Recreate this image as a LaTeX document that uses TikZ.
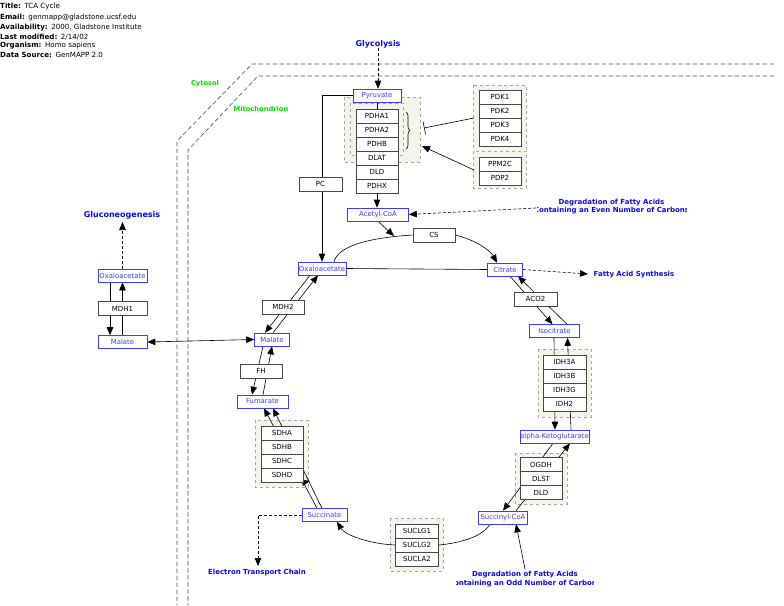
\documentclass[tikz,border=0pt]{standalone}
\usepackage{fontspec}
\setmainfont{DejaVu Sans}
\usetikzlibrary{arrows.meta,decorations.pathreplacing,calc}
\pgfdeclarelayer{grp}
\pgfdeclarelayer{lines}
\pgfsetlayers{grp,lines,main}
\definecolor{mblue}{RGB}{60,60,255}
\definecolor{lblue}{RGB}{10,10,235}
\definecolor{lgreen}{RGB}{0,220,0}
\definecolor{grpfill}{RGB}{244,244,236}
\definecolor{genedraw}{RGB}{70,70,70}
\begin{document}
\begin{tikzpicture}[x=1pt,y=-1pt,
 gene/.style={draw=genedraw, line width=0.8pt, fill=white, inner sep=0pt, minimum height=14pt, minimum width=42pt, font=\fontsize{7}{8}\selectfont},
 met/.style={draw=mblue, line width=0.6pt, fill=white, text=mblue, inner sep=0pt, minimum height=13pt, font=\fontsize{6.9}{8}\selectfont},
 lab/.style={text=lblue, font=\bfseries\fontsize{7}{8.6}\selectfont, align=center, inner sep=0pt},
 biglab/.style={text=lblue, font=\bfseries\fontsize{8}{9.6}\selectfont, inner sep=0pt},
 comp/.style={text=lgreen, font=\bfseries\fontsize{6.7}{8}\selectfont, inner sep=0pt},
 grpbox/.style={draw=gray!70, dashed, fill=grpfill, line width=0.5pt},
 cell/.style={draw=black!70, line width=0.6pt, dash pattern=on 4.5pt off 2.5pt},
 conn/.style={draw=black, line width=0.6pt},
 tri/.style={-{Triangle[length=8pt,width=6.5pt]}},
 dconn/.style={conn, dash pattern=on 3pt off 2pt},
 hdr/.style={anchor=west, inner sep=0pt, font=\fontsize{7.1}{8}\selectfont}
]
\useasboundingbox (0,0) rectangle (784,605);

% header
\begin{scope}
\clip (0,0) rectangle (142,62);
\node[hdr] (h1) at (0,7) {\textbf{Title:}\enspace TCA Cycle};
\node[hdr] (h2) at (0,17.5) {\textbf{Email:}\enspace genmapp@gladstone.ucsf.edu};
\node[hdr] (h3) at (0,27.5) {\textbf{Availability:}\enspace 2000, Gladstone Institute};
\node[hdr] (h4) at (0,36.8) {\textbf{Last modified:}\enspace 2/14/02};
\node[hdr] (h5) at (0,46) {\textbf{Organism:}\enspace Homo sapiens};
\node[hdr] (h6) at (0,55) {\textbf{Data Source:}\enspace GenMAPP 2.0};
\end{scope}

% compartments
\node[comp] (cyt) at (205,84) {Cytosol};
\node[comp] (mito) at (261,109) {Mitochondrion};

% labels
\node[biglab] (glyc) at (378,44) {Glycolysis};
\node[biglab] (glu) at (122,215) {Gluconeogenesis};
\node[lab] (fas) at (634,275) {Fatty Acid Synthesis};
\node[lab] (etc) at (257,573) {Electron Transport Chain};
\begin{scope}
\clip (537,195) rectangle (686,218);
\node[lab] (even) at (611.5,206.5) {Degradation of Fatty Acids\\Containing an Even Number of Carbons};
\end{scope}
\begin{scope}
\clip (456,568) rectangle (593,592);
\node[lab] (odd) at (525,579) {Degradation of Fatty Acids\\Containing an Odd Number of Carbons};
\end{scope}
\coordinate (evenstart) at (536,208);
\coordinate (oddstart) at (525,569);

% metabolites
\node[met, minimum width=48pt] (pyr) at (377,95.5) {Pyruvate};
\node[met, minimum width=61pt] (acoa) at (378,214.5) {Acetyl-CoA};
\node[met, minimum width=48pt] (oxam) at (322,268.5) {Oxaloacetate};
\node[met, minimum width=35pt] (cit) at (505,269.5) {Citrate};
\node[met, minimum width=50pt] (iso) at (554.5,331) {Isocitrate};
\node[met, minimum width=67pt] (akg) at (554.5,436.5) {alpha-Ketoglutarate};
\node[met, minimum width=49pt] (scoa) at (503,517.5) {Succinyl-CoA};
\node[met, minimum width=45pt] (succ) at (324.5,515) {Succinate};
\node[met, minimum width=51pt] (fum) at (262.5,401.5) {Fumarate};
\node[met, minimum width=35pt] (malm) at (272,339.5) {Malate};
\node[met, minimum width=49pt] (oxac) at (122.5,275.5) {Oxaloacetate};
\node[met, minimum width=49pt] (malc) at (122.5,342) {Malate};

% genes
\node[gene] (pdha1) at (377,116) {PDHA1};
\node[gene] (pdha2) at (377,130) {PDHA2};
\node[gene] (pdhb) at (377,144) {PDHB};
\node[gene] (dlat) at (377,158) {DLAT};
\node[gene] (dld1) at (377,172) {DLD};
\node[gene] (pdhx) at (377,186) {PDHX};
\node[gene, minimum width=43pt] (pc) at (320.5,184) {PC};
\node[gene] (cs) at (434,235) {CS};
\node[gene, minimum width=43pt] (aco2) at (535.5,299) {ACO2};
\node[gene, minimum width=43pt] (idh3a) at (564.5,362) {IDH3A};
\node[gene, minimum width=43pt] (idh3b) at (564.5,376) {IDH3B};
\node[gene, minimum width=43pt] (idh3g) at (564.5,390) {IDH3G};
\node[gene, minimum width=43pt] (idh2) at (564.5,404) {IDH2};
\node[gene] (ogdh) at (541,464.5) {OGDH};
\node[gene] (dlst) at (541,478.5) {DLST};
\node[gene] (dld2) at (541,492.5) {DLD};
\node[gene, minimum width=43pt] (suclg1) at (417,531) {SUCLG1};
\node[gene, minimum width=43pt] (suclg2) at (417,545) {SUCLG2};
\node[gene, minimum width=43pt] (sucla2) at (417,559) {SUCLA2};
\node[gene] (sdha) at (282,433) {SDHA};
\node[gene] (sdhb) at (282,447) {SDHB};
\node[gene] (sdhc) at (282,461) {SDHC};
\node[gene] (sdhd) at (282,475) {SDHD};
\node[gene] (pdk1) at (500,97) {PDK1};
\node[gene] (pdk2) at (500,111) {PDK2};
\node[gene] (pdk3) at (500,125) {PDK3};
\node[gene] (pdk4) at (500,139) {PDK4};
\node[gene] (ppm2c) at (500,164) {PPM2C};
\node[gene] (pdp2) at (500,178) {PDP2};
\node[gene] (mdh2) at (283,307) {MDH2};
\node[gene] (fh) at (261,371) {FH};
\node[gene, minimum width=49pt] (mdh1) at (122.5,308.5) {MDH1};

% groups
\begin{pgfonlayer}{grp}
\path[grpbox] (344,97) rectangle (420,162);
\path[grpbox] (350,103) rectangle (403,155);
\path[grpbox] (473,85) rectangle (526,151);
\path[grpbox] (473,151) rectangle (526,188);
\path[grpbox] (538,349) rectangle (591,417);
\path[grpbox] (515,453) rectangle (567,504);
\path[grpbox] (390,518) rectangle (443,571);
\path[grpbox] (255,420) rectangle (308,487);
\end{pgfonlayer}

% connectors
\begin{pgfonlayer}{lines}
\draw[cell] (774,64) -- (252,64) -- (177,141) -- (177,605);
\draw[cell] (774,76) -- (258,76) -- (188,150) -- (188,605);

\draw[dconn,tri] (glyc.south) -- (glyc.south |- pyr.north);
\draw[conn,tri] (pyr.west) -| (oxam.north);
\draw[conn] (pyr.south) -- (pdha1.north);
\draw[conn,tri] (pdhx.south) -- (pdhx.south |- acoa.north);

\coordinate (pdkout) at (474,118);
\coordinate (inh) at (424,128);
\draw[conn,-{Bar[width=13pt]}] (pdkout) -- (inh);
\coordinate (ppmout) at (474,170);
\coordinate (act) at (422,146);
\draw[conn,tri] (ppmout) -- (act);
\draw[line width=0.6pt, decorate, decoration={brace,amplitude=4pt}] (406,112) -- (406,149);

\coordinate (csin) at (394,236);
\draw[conn,tri] (acoa.south) -- (csin);
\draw[conn] ($(oxam.north)+(12,0)$) .. controls (338,247) and (365,238) .. (cs.west);
\draw[conn,tri] (cs.east) .. controls (475,240) and (490,250) .. ($(cit.north)+(-8,0)$);
\draw[conn] (oxam.east) -- (cit.west);
\coordinate (fasin) at (588,274);
\draw[dconn,tri] (cit.east) -- (fasin);
\draw[dconn,tri] (evenstart) -- (acoa.east);

\draw[conn,tri] ($(cit.south)+(5,0)$) -- ($(iso.north)+(-2,0)$);
\draw[conn,tri] ($(iso.north)+(12.5,0)$) -- ($(cit.south)+(13,0)$);
\draw[conn,tri] ($(iso.south)+(-0.5,0)$) -- ($(akg.north)+(0.5,0)$);
\draw[conn,tri] ($(akg.north)+(16.5,0)$) -- ($(iso.south)+(13,0)$);
\draw[conn,tri] ($(akg.south)+(-1.5,0)$) -- (scoa.north);
\draw[conn,tri] ($(scoa.north)+(13,0)$) -- ($(akg.south)+(15.5,0)$);

\draw[conn] ($(scoa.south)+(-13,0)$) .. controls (482,537) and (460,543) .. (suclg2.east);
\draw[conn,tri] (suclg2.west) .. controls (370,544) and (345,535) .. ($(succ.south)+(12.5,0)$);
\draw[conn,tri] (oddstart) -- ($(scoa.south)+(13,0)$);
\coordinate (etcin) at (258,566);
\draw[dconn,tri] (succ.west) -| (etcin);

\draw[conn,tri] ($(succ.north)+(-7.5,0)$) -- ($(fum.south)+(1.5,0)$);
\draw[conn,tri] ($(succ.north)+(-2.5,0)$) -- ($(fum.south)+(10.5,0)$);
\coordinate (sdhtip) at (310,481);
\draw[conn,tri] (sdhd.south east) -- (sdhtip);

\draw[conn,tri] ($(malm.south)+(-9,0)$) -- ($(fum.north)+(-10.5,0)$);
\draw[conn,tri] ($(fum.north)+(0.5,0)$) -- (malm.south);
\draw[conn,tri] ($(oxam.south)+(-12,0)$) -- ($(malm.north)+(-7,0)$);
\draw[conn,tri] ($(malm.north)+(1,0)$) -- ($(oxam.south)+(-4,0)$);

\draw[conn,{Triangle[length=8pt,width=6.5pt]}-{Triangle[length=8pt,width=6.5pt]}] (malc.east) -- (malm.west);
\draw[conn,tri] ($(oxac.south)+(-12.5,0)$) -- ($(malc.north)+(-12.5,0)$);
\draw[conn,tri] (malc.north) -- (oxac.south);
\coordinate (gluin) at (122.5,222);
\draw[dconn,tri] (oxac.north) -- (gluin);
\end{pgfonlayer}
\end{tikzpicture}
\end{document}
